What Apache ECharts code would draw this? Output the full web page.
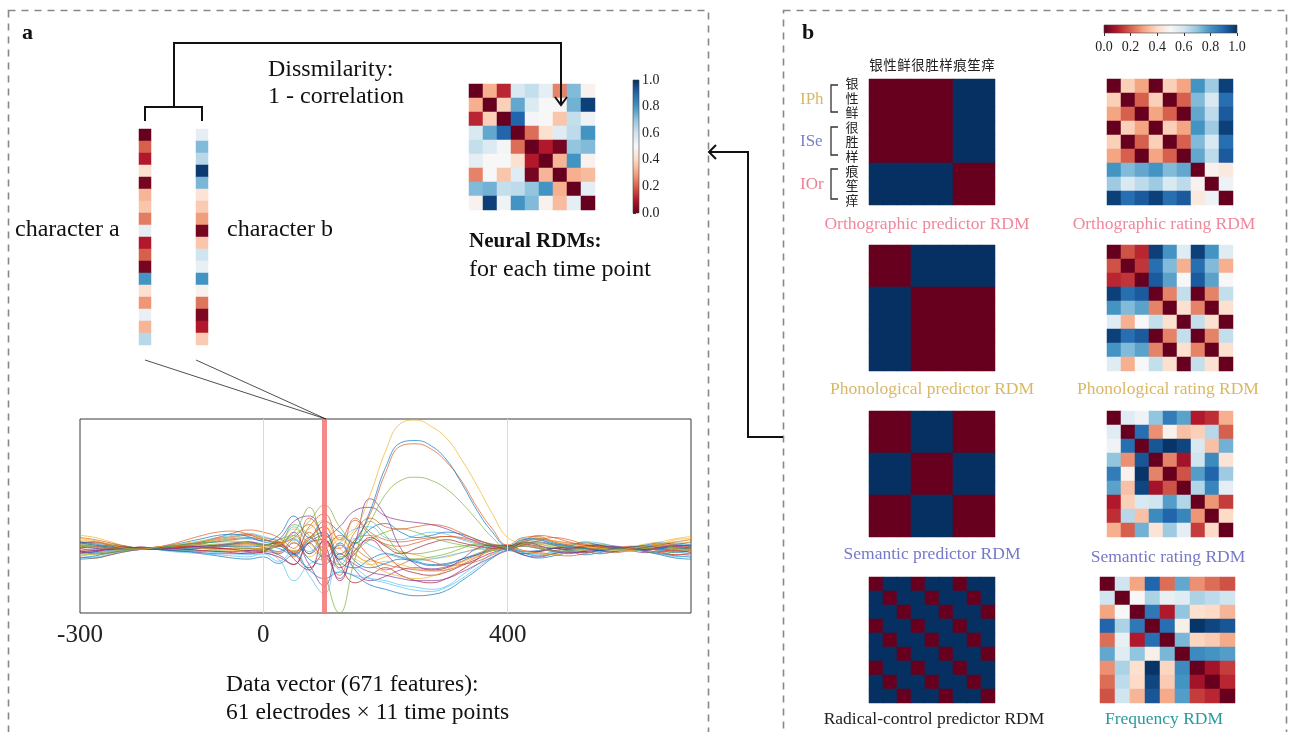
<!DOCTYPE html>
<html><head><meta charset="utf-8">
<script src="https://cdn.jsdelivr.net/npm/echarts@6/dist/echarts.min.js"></script>
<style>html,body{margin:0;padding:0;background:#fff}#c{width:1290px;height:732px}</style>
</head><body><div id="c"></div>
<script>
// ---------------- DATA ----------------
const RDBU = ['#67001f','#b2182b','#d6604d','#f4a582','#fddbc7','#f7f7f7','#d1e5f0','#92c5de','#4393c3','#2166ac','#053061'];
const charNames = ['银','性','鲜','很','胜','样','痕','笙','痒'];

const charA = [0.0,0.2,0.1,0.42,0.02,0.33,0.36,0.24,0.55,0.1,0.2,0.02,0.8,0.42,0.28,0.54,0.33,0.64];
const charB = [0.55,0.72,0.64,0.98,0.73,0.43,0.37,0.29,0.02,0.36,0.6,0.54,0.8,0.48,0.23,0.03,0.1,0.37];

const neuralRDM = [
 [0,0.32,0.12,0.58,0.62,0.55,0.25,0.72,0.48],
 [0.32,0,0.38,0.76,0.57,0.5,0.5,0.74,0.97],
 [0.12,0.38,0,0.9,0.51,0.5,0.36,0.62,0.52],
 [0.58,0.76,0.9,0,0.22,0.42,0.56,0.63,0.8],
 [0.62,0.57,0.51,0.22,0,0.1,0.02,0.7,0.72],
 [0.55,0.5,0.5,0.42,0.1,0,0.33,0.8,0.48],
 [0.25,0.5,0.36,0.56,0.02,0.33,0,0.32,0.34],
 [0.72,0.74,0.62,0.63,0.7,0.8,0.32,0,0.55],
 [0.48,0.97,0.52,0.8,0.72,0.48,0.34,0.55,0]
];

const orthoPredictor = [
 [0,0,0,0,0,0,1,1,1],[0,0,0,0,0,0,1,1,1],[0,0,0,0,0,0,1,1,1],
 [0,0,0,0,0,0,1,1,1],[0,0,0,0,0,0,1,1,1],[0,0,0,0,0,0,1,1,1],
 [1,1,1,1,1,1,0,0,0],[1,1,1,1,1,1,0,0,0],[1,1,1,1,1,1,0,0,0]
];
const phonPredictor = [
 [0,0,0,1,1,1,1,1,1],[0,0,0,1,1,1,1,1,1],[0,0,0,1,1,1,1,1,1],
 [1,1,1,0,0,0,0,0,0],[1,1,1,0,0,0,0,0,0],[1,1,1,0,0,0,0,0,0],
 [1,1,1,0,0,0,0,0,0],[1,1,1,0,0,0,0,0,0],[1,1,1,0,0,0,0,0,0]
];
const semPredictor = [
 [0,0,0,1,1,1,0,0,0],[0,0,0,1,1,1,0,0,0],[0,0,0,1,1,1,0,0,0],
 [1,1,1,0,0,0,1,1,1],[1,1,1,0,0,0,1,1,1],[1,1,1,0,0,0,1,1,1],
 [0,0,0,1,1,1,0,0,0],[0,0,0,1,1,1,0,0,0],[0,0,0,1,1,1,0,0,0]
];
const radicalPredictor = [
 [0,1,1,0,1,1,0,1,1],[1,0,1,1,0,1,1,0,1],[1,1,0,1,1,0,1,1,0],
 [0,1,1,0,1,1,0,1,1],[1,0,1,1,0,1,1,0,1],[1,1,0,1,1,0,1,1,0],
 [0,1,1,0,1,1,0,1,1],[1,0,1,1,0,1,1,0,1],[1,1,0,1,1,0,1,1,0]
];

const orthoRating = [
 [0,0.38,0.3,0,0.38,0.3,0.8,0.68,0.97],
 [0.38,0,0.2,0.38,0,0.2,0.72,0.58,0.88],
 [0.3,0.2,0,0.3,0.2,0,0.76,0.63,0.92],
 [0,0.38,0.3,0,0.38,0.3,0.8,0.68,0.97],
 [0.38,0,0.2,0.38,0,0.2,0.72,0.58,0.88],
 [0.3,0.2,0,0.3,0.2,0,0.76,0.63,0.92],
 [0.8,0.72,0.76,0.8,0.72,0.76,0,0.48,0.45],
 [0.68,0.58,0.63,0.68,0.58,0.63,0.48,0,0.53],
 [0.97,0.88,0.92,0.97,0.88,0.92,0.45,0.53,0]
];
const phonRating = [
 [0,0.18,0.12,0.97,0.8,0.56,0.97,0.8,0.56],
 [0.18,0,0.14,0.88,0.72,0.32,0.88,0.72,0.32],
 [0.12,0.14,0,0.92,0.77,0.5,0.92,0.77,0.5],
 [0.97,0.88,0.92,0,0.25,0.62,0,0.25,0.62],
 [0.8,0.72,0.77,0.25,0,0.42,0.25,0,0.42],
 [0.56,0.32,0.5,0.62,0.42,0,0.62,0.42,0],
 [0.97,0.88,0.92,0,0.25,0.62,0,0.25,0.62],
 [0.8,0.72,0.77,0.25,0,0.42,0.25,0,0.42],
 [0.56,0.32,0.5,0.62,0.42,0,0.62,0.42,0]
];
const semRating = [
 [0,0.56,0.52,0.7,0.85,0.77,0.1,0.13,0.32],
 [0.56,0,0.88,0.27,0.48,0.35,0.38,0.64,0.2],
 [0.52,0.88,0,0.93,0.99,0.96,0.58,0.35,0.74],
 [0.7,0.27,0.93,0,0.25,0.08,0.6,0.82,0.43],
 [0.85,0.48,0.99,0.25,0,0.18,0.78,0.9,0.68],
 [0.77,0.35,0.96,0.08,0.18,0,0.65,0.83,0.55],
 [0.1,0.38,0.58,0.6,0.78,0.65,0,0.28,0.15],
 [0.13,0.64,0.35,0.82,0.9,0.83,0.28,0,0.4],
 [0.32,0.2,0.74,0.43,0.68,0.55,0.15,0.4,0]
];
const freqRating = [
 [0,0.6,0.3,0.9,0.22,0.76,0.27,0.22,0.18],
 [0.6,0,0.5,0.66,0.54,0.56,0.66,0.63,0.6],
 [0.3,0.5,0,0.86,0.1,0.7,0.42,0.4,0.33],
 [0.9,0.66,0.86,0,0.88,0.47,0.99,0.96,0.93],
 [0.22,0.54,0.1,0.88,0,0.73,0.39,0.37,0.31],
 [0.76,0.56,0.7,0.47,0.73,0,0.82,0.8,0.78],
 [0.27,0.66,0.42,0.99,0.39,0.82,0,0.08,0.15],
 [0.22,0.63,0.4,0.96,0.37,0.8,0.08,0,0.12],
 [0.18,0.6,0.33,0.93,0.31,0.78,0.15,0.12,0]
];

// EEG: time (ms) and electrode traces (µV, estimated)
const timesMs = [-300,-275,-250,-225,-200,-175,-150,-125,-100,-75,-50,-25,0,25,50,75,100,125,150,175,200,225,250,275,300,325,350,375,400,425,450,475,500,525,550,575,600,625,650,675,700];
const xTickLabels = [-300, 0, 400];
const xGridLines = [0, 400];
const highlightTime = 100;

const eeg01 = [0.5,0.3,0.1,0.0,-0.1,0.0,0.3,0.6,0.9,1.2,1.3,1.1,0.6,0.3,-0.5,0.8,1.5,-1.0,0.5,3.5,7.5,9.8,10.0,9.5,8.2,6.0,3.5,1.5,0.2,0.8,0.9,0.5,0.2,0.0,-0.2,0.0,0.1,0.2,0.0,-0.1,0.2];
const eeg02 = [0.3,0.2,0.0,-0.1,0.0,0.1,0.4,0.8,1.2,1.5,1.6,1.3,0.8,0.5,-0.3,1.0,2.0,-0.5,0.8,3.2,7.0,9.5,9.7,9.2,8.0,6.2,3.8,1.8,0.3,1.0,1.1,0.6,0.3,0.1,-0.1,0.0,0.2,0.1,-0.1,-0.2,0.0];
const eeg03 = [0.9,0.7,0.3,0.0,-0.1,0.1,0.3,0.5,0.7,0.8,0.7,0.5,0.2,0.4,0.9,1.8,2.6,0.8,1.8,5.0,9.0,11.6,11.9,11.3,10.2,8.2,5.8,3.2,1.0,0.6,0.9,0.7,0.4,0.2,0.0,-0.2,0.0,0.2,0.4,0.6,0.5];
const eeg04 = [0.2,0.1,0.0,-0.1,0.0,0.0,0.2,0.4,0.5,0.6,0.6,0.5,0.3,0.6,1.2,2.5,4.0,2.0,0.5,2.5,5.0,6.3,6.6,6.3,5.5,4.2,2.6,1.0,0.0,0.4,0.5,0.3,0.1,0.0,-0.1,0.0,0.1,0.0,-0.1,0.0,0.1];
const eeg05 = [-0.3,-0.2,0.0,0.1,0.0,-0.1,0.0,0.1,0.2,0.3,0.4,0.6,0.3,0.8,2.5,3.0,0.5,-2.8,0.5,4.6,3.0,0.0,-1.5,-2.0,-1.8,-1.0,0.0,0.3,0.2,0.6,0.3,-0.2,-0.4,-0.3,0.0,0.2,0.0,-0.1,0.1,0.2,0.0];
const eeg06 = [-0.6,-0.8,-0.5,-0.2,0.0,-0.1,-0.3,-0.4,-0.5,-0.6,-0.7,-0.8,-0.5,-1.0,-3.0,-1.5,-1.0,-2.0,-2.5,-2.8,-3.0,-3.4,-3.6,-3.8,-3.5,-2.5,-1.5,-0.5,0.0,-0.4,-0.6,-0.3,0.0,-0.2,-0.5,-0.3,0.0,-0.2,-0.5,-0.8,-0.6];
const eeg07 = [0.0,-0.2,-0.1,0.0,0.1,0.0,-0.1,-0.1,0.0,0.0,-0.1,-0.2,-0.2,0.5,-1.0,-2.0,0.8,-1.5,-3.2,-2.5,-1.8,-2.5,-3.0,-3.2,-2.8,-2.0,-1.0,0.2,0.3,-0.2,-0.3,0.0,0.1,0.0,-0.2,0.0,0.1,0.0,-0.1,-0.3,-0.2];
const eeg08 = [0.4,0.3,0.1,0.0,0.0,0.1,0.2,0.3,0.3,0.4,0.4,0.5,0.3,0.8,1.5,3.8,-2.0,-6.0,-1.0,2.5,1.2,-0.5,-1.0,-0.8,-0.5,0.0,0.4,0.3,0.1,0.6,0.2,-0.3,-0.2,0.0,0.1,0.0,-0.1,0.2,0.3,0.1,0.0];
const eeg09 = [0.6,0.4,0.2,0.0,-0.1,0.0,0.2,0.4,0.5,0.6,0.8,0.9,0.7,1.2,3.0,1.0,2.5,1.5,0.5,1.8,2.3,1.5,1.0,1.2,1.5,1.3,0.8,0.3,0.0,0.6,0.8,0.4,0.3,0.5,0.3,0.0,0.1,0.3,0.5,0.4,0.6];
const eeg10 = [-0.2,-0.1,0.0,0.0,0.1,0.0,0.1,0.3,0.6,1.0,1.4,1.7,1.5,1.0,0.0,2.8,1.0,-1.0,1.5,2.8,2.0,1.8,2.0,2.2,2.0,1.4,0.8,0.3,-0.1,0.3,0.7,1.0,0.8,0.4,0.2,0.0,-0.1,0.2,0.4,0.3,0.1];
const eeg11 = [0.8,0.6,0.4,0.1,0.0,0.0,0.1,0.2,0.3,0.3,0.2,0.1,0.0,0.3,1.8,0.5,-0.5,0.8,-0.5,-1.5,-2.2,-2.6,-2.8,-2.6,-2.0,-1.2,-0.5,0.0,0.2,0.5,0.4,0.2,0.1,0.3,0.2,0.0,0.0,0.2,0.4,0.8,0.9];
const eeg12 = [-0.4,-0.3,-0.2,0.0,0.1,0.0,-0.1,-0.2,-0.2,-0.3,-0.3,-0.2,0.0,-0.5,0.5,-1.5,-3.5,-0.5,-1.5,-2.2,-2.5,-2.8,-3.0,-3.0,-2.8,-2.2,-1.5,-0.8,-0.2,0.2,0.0,-0.3,-0.5,-0.2,0.0,0.1,-0.1,-0.2,0.0,0.1,-0.1];
const eeg13 = [0.3,0.2,0.0,-0.2,-0.1,0.0,0.2,0.4,0.7,1.0,1.2,1.4,1.1,0.8,2.0,0.2,-0.8,0.5,1.8,2.0,1.0,0.8,1.2,1.5,1.3,0.8,0.4,0.1,-0.1,0.9,0.8,0.4,0.2,0.6,0.5,0.2,0.0,0.1,0.4,0.5,0.3];
const eeg14 = [-0.8,-0.9,-0.6,-0.3,-0.1,0.0,-0.2,-0.3,-0.2,-0.1,0.0,0.0,-0.1,0.4,-0.8,1.0,-0.5,-2.5,0.5,-0.8,-2.0,-1.5,-1.0,-1.2,-1.6,-1.5,-1.2,-0.6,0.0,-0.5,-0.4,-0.6,-0.7,-0.5,-0.3,-0.4,-0.2,0.0,-0.3,-0.6,-0.4];
const eeg15 = [0.5,0.6,0.3,0.1,0.0,0.1,0.1,0.2,0.1,0.0,-0.1,-0.3,-0.4,-0.8,-1.5,0.5,0.8,-1.8,-0.5,1.0,0.2,-0.5,0.0,0.5,0.8,0.5,0.2,0.0,0.1,0.4,0.2,0.0,-0.1,0.1,0.2,0.1,0.0,-0.1,0.0,0.2,0.3];
const eeg16 = [-0.2,-0.4,-0.3,-0.1,0.0,-0.1,-0.2,-0.1,0.0,0.1,0.2,0.2,0.1,-0.3,0.8,-1.0,-1.5,0.5,-1.2,-1.8,-1.4,-1.0,-1.3,-1.6,-1.5,-1.0,-0.6,-0.2,0.0,-0.3,-0.2,0.0,0.1,0.0,-0.2,-0.3,-0.1,0.0,-0.2,-0.4,-0.2];
const eeg17 = [1.0,0.8,0.5,0.2,0.0,0.1,0.3,0.2,0.1,0.2,0.3,0.4,0.2,0.6,-0.5,1.5,0.0,1.2,0.0,-1.0,-1.5,-1.8,-2.0,-2.1,-2.0,-1.5,-0.8,-0.2,0.1,0.3,0.1,-0.2,0.0,0.2,0.1,-0.1,0.0,0.1,0.3,0.6,0.8];
const eeg18 = [-0.5,-0.6,-0.4,-0.2,0.0,0.0,-0.1,-0.2,-0.3,-0.2,-0.1,0.0,-0.2,0.3,1.2,-0.5,1.5,-0.8,-0.2,0.8,1.5,1.8,1.5,1.0,0.6,0.3,0.0,-0.2,0.0,0.2,0.0,-0.2,-0.3,-0.1,0.0,0.0,-0.1,-0.3,-0.5,-0.3,-0.1];
const eeg19 = [0.1,0.0,-0.1,0.0,0.1,0.0,0.0,0.1,0.2,0.3,0.5,0.6,0.4,0.2,1.5,-0.5,0.8,2.0,3.5,3.8,3.0,2.6,2.4,2.2,1.8,1.2,0.6,0.2,0.0,0.5,0.6,0.3,0.0,0.2,0.3,0.1,0.0,-0.1,0.1,0.3,0.2];
const eeg20 = [0.2,0.0,-0.2,-0.1,0.0,0.0,-0.1,-0.2,-0.3,-0.4,-0.5,-0.6,-0.5,-1.2,-0.2,-2.5,-4.2,-1.0,-1.8,-2.8,-3.2,-3.6,-3.9,-4.0,-3.6,-2.8,-1.8,-0.8,0.0,-0.3,-0.5,-0.4,-0.2,-0.1,0.0,-0.2,-0.3,-0.1,0.0,-0.3,-0.5];
const eeg21 = [-0.7,-0.5,-0.3,-0.1,0.0,0.0,0.0,0.1,0.0,-0.1,-0.2,-0.1,0.0,0.2,-0.2,0.8,2.0,0.0,-1.0,-1.5,-1.2,-1.5,-1.9,-2.0,-1.8,-1.3,-0.7,-0.2,0.1,-0.2,-0.5,-0.6,-0.4,-0.2,0.0,-0.1,-0.2,0.0,0.2,0.0,-0.2];
const eeg22 = [0.2,0.1,0.2,0.1,0.0,-0.1,0.0,0.2,0.4,0.7,0.9,1.0,0.8,0.5,1.0,2.2,0.5,0.0,2.8,1.5,0.8,0.6,0.8,1.0,1.1,1.0,0.7,0.4,0.2,0.7,1.2,1.0,0.6,0.3,0.2,0.0,0.1,0.2,0.1,0.0,0.1];
const eeg23 = [1.2,1.0,0.6,0.2,0.0,0.1,0.2,0.1,0.0,0.1,0.2,0.3,0.1,-0.4,0.6,-0.8,0.4,1.0,-0.6,-1.2,-0.8,-0.4,-0.6,-0.9,-0.8,-0.4,0.0,0.3,0.1,0.8,1.0,0.6,0.4,0.6,0.3,0.0,0.1,0.4,0.6,0.9,1.1];
const eeg24 = [-1.0,-0.9,-0.6,-0.3,-0.1,0.0,-0.1,0.0,0.1,0.2,0.4,0.5,0.3,0.0,-0.6,0.6,1.2,-1.2,-1.8,-1.0,-0.5,-0.8,-1.2,-1.5,-1.4,-1.0,-0.5,0.0,0.2,-0.4,-0.7,-0.5,-0.3,-0.6,-0.4,-0.1,0.0,-0.3,-0.6,-0.9,-1.0];
const eeg25 = [0.0,0.2,0.3,0.2,0.0,-0.1,0.0,0.2,0.5,0.8,1.0,1.2,0.9,0.4,2.2,1.2,-0.5,-1.5,0.8,1.2,0.3,-0.3,-0.5,-0.3,0.0,0.2,0.3,0.1,0.0,0.5,0.4,0.1,-0.1,0.2,0.4,0.2,0.0,0.1,0.2,0.1,0.0];
const eeg26 = [-0.5,-0.3,-0.1,0.0,0.0,-0.1,-0.2,-0.3,-0.4,-0.5,-0.5,-0.4,-0.3,-0.6,-1.5,0.5,-0.8,0.3,-2.0,-3.0,-2.6,-2.0,-1.8,-1.9,-1.7,-1.2,-0.6,-0.1,0.1,-0.6,-0.8,-0.5,-0.2,-0.3,-0.2,-0.1,-0.2,-0.4,-0.3,-0.2,-0.4];
const eeg27 = [0.6,0.5,0.3,0.1,0.0,0.1,0.2,0.4,0.6,0.9,1.1,1.3,1.0,0.6,-0.4,2.0,3.2,0.8,2.6,1.2,0.4,0.2,0.5,0.9,1.1,0.9,0.5,0.2,0.0,0.6,0.9,0.7,0.5,0.3,0.1,0.0,0.1,0.2,0.3,0.2,0.3];
const eeg28 = [-0.3,-0.5,-0.4,-0.2,-0.1,0.0,0.0,-0.1,-0.2,-0.3,-0.4,-0.5,-0.3,0.2,-0.5,-1.8,-0.5,-3.0,-0.2,0.8,-0.5,-1.8,-2.3,-2.5,-2.2,-1.6,-1.0,-0.4,-0.1,-0.5,-0.3,0.0,-0.2,-0.4,-0.2,0.0,-0.1,-0.2,-0.4,-0.6,-0.5];
const eeg29 = [0.4,0.5,0.4,0.2,0.0,0.0,0.1,0.1,0.2,0.2,0.1,0.0,-0.1,0.3,0.9,-0.3,0.6,-0.6,0.9,0.3,-0.4,-0.9,-1.1,-1.0,-0.7,-0.4,-0.1,0.1,0.0,0.3,0.5,0.3,0.1,0.0,-0.1,0.0,0.0,0.2,0.1,0.3,0.4];
const eeg30 = [-0.9,-0.7,-0.4,-0.2,0.0,0.0,-0.2,-0.3,-0.5,-0.7,-0.9,-1.0,-0.8,-1.4,-0.6,-2.0,-2.8,-2.2,-2.6,-3.4,-3.8,-4.2,-4.4,-4.3,-3.9,-3.0,-2.0,-0.9,-0.2,-0.6,-0.9,-0.7,-0.4,-0.3,-0.5,-0.3,-0.1,-0.3,-0.5,-0.7,-0.8];

const eegTraces = [eeg23,eeg24,eeg25,eeg26,eeg27,eeg28,eeg29,eeg30,eeg06,eeg07,eeg11,eeg12,eeg13,eeg14,eeg15,eeg16,eeg17,eeg18,eeg20,eeg21,eeg22,eeg09,eeg10,eeg19,eeg05,eeg08,eeg04,eeg02,eeg01,eeg03];
const eegColors = ['#EDB120','#0072BD','#77AC30','#7E2F8E','#D95319','#A2142F','#4DBEEE','#0072BD',
  '#4DBEEE','#A2142F','#EDB120','#7E2F8E','#4DBEEE','#D95319','#A2142F','#0072BD','#D95319','#77AC30',
  '#4DBEEE','#EDB120','#D95319','#0072BD','#D95319','#7E2F8E','#7E2F8E','#77AC30','#77AC30','#D95319','#0072BD','#EDB120'];

// ---------------- LAYOUT ----------------
const SERIF = '"Liberation Serif", "Times New Roman", serif';
const CJK = '"Noto Sans CJK SC", sans-serif';
const grids = [], xAxes = [], yAxes = [], series = [], heatIdx = [];
function idx(n){ return Array.from({length:n}, (_, i) => String(i)); }
function addHeat(box, matrix){
  const g = grids.length; grids.push(box);
  const nr = matrix.length, nc = matrix[0].length;
  xAxes.push({gridIndex:g, type:'category', data:idx(nc), show:false});
  yAxes.push({gridIndex:g, type:'category', data:idx(nr), inverse:true, show:false});
  const data = [];
  matrix.forEach((row, i) => row.forEach((v, j) => data.push([j, i, v])));
  heatIdx.push(series.length);
  series.push({type:'heatmap', xAxisIndex:g, yAxisIndex:g, data, silent:true,
    itemStyle:{borderWidth:0}, progressive:0, animation:false});
}
addHeat({left:139, top:129, width:12, height:216}, charA.map(v => [v]));
addHeat({left:196, top:129, width:12, height:216}, charB.map(v => [v]));
addHeat({left:469, top:84, width:126, height:126}, neuralRDM);
addHeat({left:869, top:79, width:126, height:126}, orthoPredictor);
addHeat({left:869, top:245, width:126, height:126}, phonPredictor);
addHeat({left:869, top:411, width:126, height:126}, semPredictor);
addHeat({left:869, top:577, width:126, height:126}, radicalPredictor);
addHeat({left:1107, top:79, width:126, height:126}, orthoRating);
addHeat({left:1107, top:245, width:126, height:126}, phonRating);
addHeat({left:1107, top:411, width:126, height:126}, semRating);
addHeat({left:1100, top:577, width:135, height:126}, freqRating);

// EEG grid
const gE = grids.length;
grids.push({left:80, top:419, width:611, height:194, show:true, borderColor:'#3a3a3a', borderWidth:1});
const tickStyle = {show:true, inside:true, length:5, customValues:xGridLines, lineStyle:{color:'#333'}};
xAxes.push({gridIndex:gE, type:'value', min:-300, max:700, position:'bottom',
  axisLine:{show:false}, splitLine:{show:false}, axisTick:tickStyle,
  axisLabel:{customValues:xTickLabels, fontSize:25, fontFamily:SERIF, color:'#222', margin:10}});
xAxes.push({gridIndex:gE, type:'value', min:-300, max:700, position:'top',
  axisLine:{show:false}, splitLine:{show:false}, axisTick:tickStyle, axisLabel:{show:false}});
yAxes.push({gridIndex:gE, type:'value', min:-6, max:12, show:false});
series.push({type:'line', xAxisIndex:gE, yAxisIndex:gE, data:[], silent:true, z:1,
  markLine:{silent:true, symbol:'none', label:{show:false}, animation:false,
    lineStyle:{color:'#d9d9d9', width:1, type:'solid'}, data:xGridLines.map(v => ({xAxis:v}))}});
eegTraces.forEach((tr, k) => {
  series.push({type:'line', xAxisIndex:gE, yAxisIndex:gE, silent:true, animation:false,
    data: timesMs.map((t, i) => [t, tr[i]]), showSymbol:false, smooth:0.45, z:2,
    lineStyle:{width:0.85, color:eegColors[k], opacity:0.8}});
});
series.push({type:'line', xAxisIndex:gE, yAxisIndex:gE, data:[], silent:true, z:5,
  markLine:{silent:true, symbol:'none', label:{show:false}, animation:false,
    lineStyle:{color:'#F47C7C', width:5, type:'solid', opacity:0.9}, data:[{xAxis:highlightTime}]}});

// colorbar tick axes
const gCA = grids.length;
grids.push({left:633, top:80, width:6, height:133});
xAxes.push({gridIndex:gCA, type:'value', show:false});
yAxes.push({gridIndex:gCA, type:'value', min:0, max:1, interval:0.2, position:'right',
  axisLine:{show:false}, splitLine:{show:false},
  axisTick:{show:true, length:3, lineStyle:{color:'#333'}},
  axisLabel:{fontSize:14, fontFamily:SERIF, color:'#222', margin:3, formatter:v => v.toFixed(1)}});
const gCB = grids.length;
grids.push({left:1104, top:25, width:133, height:8});
xAxes.push({gridIndex:gCB, type:'value', min:0, max:1, interval:0.2, position:'bottom',
  axisLine:{show:false}, splitLine:{show:false},
  axisTick:{show:true, length:3, lineStyle:{color:'#333'}},
  axisLabel:{fontSize:14, fontFamily:SERIF, color:'#222', margin:7, formatter:v => v.toFixed(1)}});
yAxes.push({gridIndex:gCB, type:'value', show:false});

// ---------------- GRAPHICS ----------------
function txt(text, x, y, font, fill, align, extra){
  return Object.assign({type:'text', z:100, silent:true, style:{text, x, y, font, fill:fill||'#111',
    textAlign:align||'left', textVerticalAlign:'middle', align:align||'left', verticalAlign:'middle'}}, extra||{});
}
function pline(points, w, color){
  return {type:'polyline', z:100, silent:true, shape:{points}, style:{stroke:color||'#111', lineWidth:w||2, fill:null}};
}
function vgrad(){ return {type:'linear', x:0, y:1, x2:0, y2:0, colorStops:RDBU.map((c,i)=>({offset:i/10, color:c}))}; }
function hgrad(){ return {type:'linear', x:0, y:0, x2:1, y2:0, colorStops:RDBU.map((c,i)=>({offset:i/10, color:c}))}; }

const G = [];
G.push({type:'rect', z:1, silent:true, shape:{x:8.5, y:10.5, width:700, height:740}, style:{fill:'none', stroke:'#888', lineWidth:1.6, lineDash:[7,6]}});
G.push({type:'rect', z:1, silent:true, shape:{x:783.5, y:10.5, width:503, height:740}, style:{fill:'none', stroke:'#888', lineWidth:1.6, lineDash:[7,6]}});
G.push(txt('a', 22, 33, 'bold 22px ' + SERIF, '#111'));
G.push(txt('b', 802, 33, 'bold 22px ' + SERIF, '#111'));

// panel a
G.push(pline([[145,121],[145,107],[202,107],[202,121]], 2));
G.push(pline([[174,107],[174,43],[561,43],[561,104]], 2));
G.push(pline([[555,97],[561,105],[567,97]], 2));
G.push(txt('Dissmilarity:', 268, 70, '24px ' + SERIF, '#111'));
G.push(txt('1 - correlation', 268, 97, '24px ' + SERIF, '#111'));
G.push(txt('character a', 15, 230, '24px ' + SERIF, '#111'));
G.push(txt('character b', 227, 230, '24px ' + SERIF, '#111'));
G.push(txt('Neural RDMs:', 469, 242, 'bold 21px ' + SERIF, '#111'));
G.push(txt('for each time point', 469, 270, '24px ' + SERIF, '#111'));
G.push(txt('Data vector (671 features):', 226, 685, '23.5px ' + SERIF, '#111'));
G.push(txt('61 electrodes \u00d7 11 time points', 226, 713, '23.5px ' + SERIF, '#111'));
G.push({type:'rect', z:50, silent:true, shape:{x:633, y:80, width:6, height:133}, style:{fill:vgrad(), stroke:'#444', lineWidth:0.6}});
G.push(txt('Dissimilarity', 677, 159, '11.5px ' + SERIF, '#111', 'center', {rotation:Math.PI/2, x:0, y:0}));
G.push(pline([[145,360],[326,419],[196,360]], 0.8, '#222'));

// panel b
G.push({type:'rect', z:50, silent:true, shape:{x:1104, y:25, width:133, height:8}, style:{fill:hgrad(), stroke:'#444', lineWidth:0.6}});
G.push(pline([[783,437],[748,437],[748,152],[709,152]], 2));
G.push(pline([[716,145],[709,152],[716,159]], 2));
charNames.forEach((c, i) => {
  G.push(txt(c, 869 + 14*(i+0.5), 65, '13.5px ' + CJK, '#222', 'center'));
  G.push(txt(c, 852, 83 + 14.6*i, '13px ' + CJK, '#222', 'center'));
});
[[85,112],[127,155],[169,199]].forEach(([a,b]) => G.push(pline([[838,a],[831,a],[831,b],[838,b]], 1.3, '#333')));
G.push(txt('IPh', 800, 100, '17px ' + SERIF, '#D9B865'));
G.push(txt('ISe', 800, 142, '17px ' + SERIF, '#7B80C8'));
G.push(txt('IOr', 800, 185, '17px ' + SERIF, '#EE7F96'));
G.push(txt('Orthographic predictor RDM', 927, 224, '17.5px ' + SERIF, '#F0889C', 'center'));
G.push(txt('Orthographic rating RDM', 1164, 224, '17.5px ' + SERIF, '#F0889C', 'center'));
G.push(txt('Phonological predictor RDM', 932, 389, '17.5px ' + SERIF, '#D9B865', 'center'));
G.push(txt('Phonological rating RDM', 1168, 389, '17.5px ' + SERIF, '#D9B865', 'center'));
G.push(txt('Semantic predictor RDM', 932, 554, '17.5px ' + SERIF, '#7579C8', 'center'));
G.push(txt('Semantic rating RDM', 1168, 557, '17.5px ' + SERIF, '#7579C8', 'center'));
G.push(txt('Radical-control predictor RDM', 934, 719, '17.5px ' + SERIF, '#222', 'center'));
G.push(txt('Frequency RDM', 1164, 719, '17.5px ' + SERIF, '#2A9A9A', 'center'));

const chart = echarts.init(document.getElementById('c'), null, {renderer:'canvas'});
chart.setOption({
  backgroundColor:'#fff', animation:false,
  grid:grids, xAxis:xAxes, yAxis:yAxes, series,
  visualMap:[{type:'continuous', show:false, min:0, max:1, seriesIndex:heatIdx, inRange:{color:RDBU}}],
  graphic:{elements:G}
});
</script></body></html>
